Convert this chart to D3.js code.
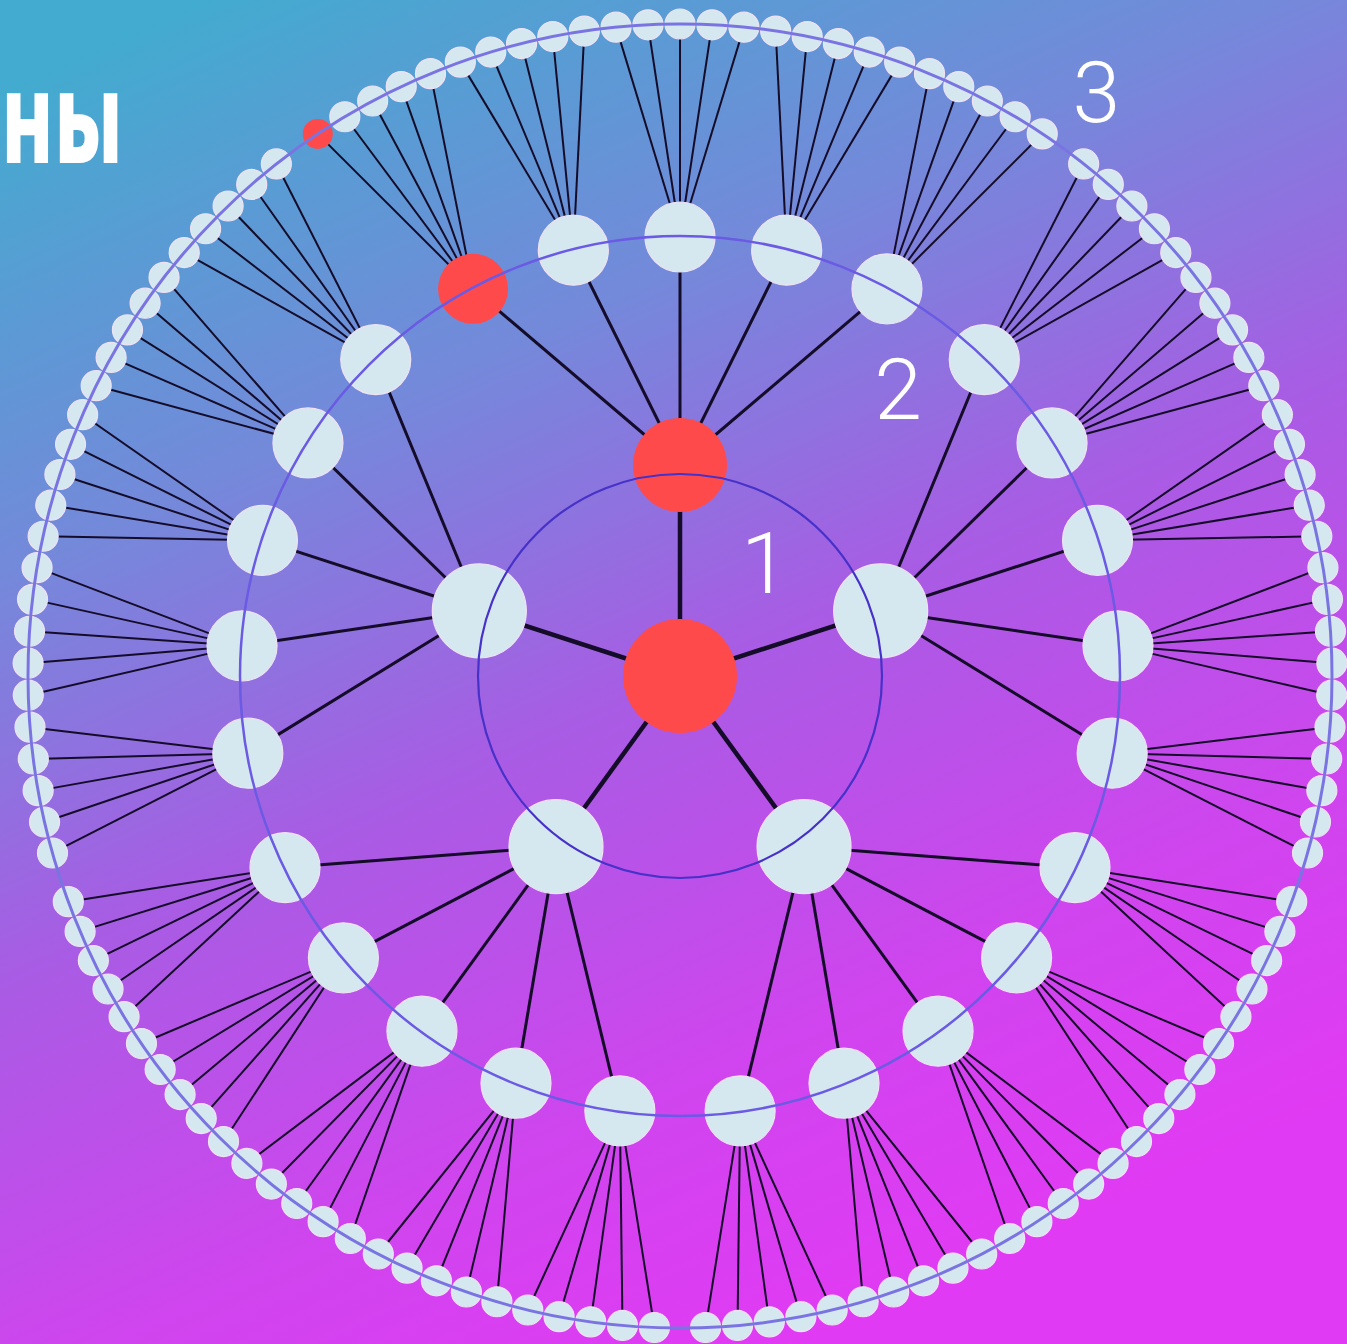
<!DOCTYPE html>
<html lang="ru">
<head>
    <meta charset="UTF-8">
    <title>Уровни связей</title>
    <script src="https://d3js.org/d3.v7.min.js"></script>
    <style>
        html, body { margin: 0; padding: 0; overflow: hidden; }
        svg { display: block; }
        .title { font-family: "Noto Sans", sans-serif; font-weight: 800; fill: #fff; }
        .ring-label { font-family: Roboto, "Open Sans", sans-serif; font-weight: 300; fill: #fff; }
    </style>
</head>
<body>
<div id="chart"></div>
<script>
    // --- data ---
    const level1Count = 5;                       // branches from the centre
    const level2PerBranch = [5, 5, 5, 5, 5];     // second-level nodes per branch
    const leavesPerNode = [                      // third-level nodes per second-level node
        5, 5, 5, 5, 5,
        5, 5, 5, 5, 5,
        5, 5, 5, 5, 5,
        5, 5, 5, 5, 5,
        5, 5, 5, 5, 5
    ];
    const highlightPath = [0, 0, 0];             // child index taken at each level (red chain)
    const ringLabels = ["1", "2", "3"];
    const titleFragment = "ны";

    // --- layout ---
    const width = 1347, height = 1344;
    const cx = 680, cy = 676;
    const radius = d3.scaleLinear().domain([0, 1, 2, 3]).range([0, 211, 439, 652]);
    const nodeSize = d3.scaleOrdinal().domain([0, 1, 2, 3]).range([57, 47, 35, 15]);
    const edgeWidth = d3.scaleOrdinal().domain([1, 2, 3]).range([4.5, 3, 2]);
    const ringRadius = [202, 440, 652];
    const ringStyle = [
        { stroke: "#4631c9", width: 2.2 },
        { stroke: "#6a5ae4", width: 2.5 },
        { stroke: "#7a74e2", width: 3 }
    ];
    const labelRadius = [141, 360, 717];
    const labelAngle = [37, 37.3, 35.5];

    // build the tree from the counts
    let leafCursor = 0;
    const treeData = {
        name: "root",
        children: d3.range(level1Count).map(i => ({
            name: "b" + i,
            children: d3.range(level2PerBranch[i]).map(j => {
                const n = leavesPerNode[leafCursor++];
                return { name: "b" + i + "-" + j, children: d3.range(n).map(k => ({ name: "l" + k })) };
            })
        }))
    };

    const root = d3.hierarchy(treeData);
    d3.cluster()
        .size([2 * Math.PI, 1])
        .separation((a, b) => (a.parent.parent === b.parent.parent ? 1 : 1.6))(root);

    // mark the red chain
    root.hot = true;
    let cur = root;
    highlightPath.forEach(idx => { cur = cur.children[idx]; cur.hot = true; });

    const rotate = -Math.PI / level1Count;
    const pos = d => {
        const p = d3.pointRadial(d.x + rotate, radius(d.depth));
        return [cx + p[0], cy + p[1]];
    };

    const svg = d3.select("#chart").append("svg")
        .attr("width", width)
        .attr("height", height);

    const grad = svg.append("defs").append("linearGradient")
        .attr("id", "bg")
        .attr("x1", "0.15").attr("y1", "0")
        .attr("x2", "0.6").attr("y2", "1");
    [
        [0, "#43abcf"],
        [0.3, "#7489da"],
        [0.55, "#a85ce4"],
        [0.8, "#cf45ee"],
        [1, "#e13af4"]
    ].forEach(s => grad.append("stop").attr("offset", s[0]).attr("stop-color", s[1]));

    svg.append("rect")
        .attr("width", width)
        .attr("height", height)
        .attr("fill", "url(#bg)");

    svg.append("text")
        .attr("class", "title")
        .attr("x", 1)
        .attr("y", 163)
        .attr("font-size", 127)
        .attr("textLength", 122)
        .attr("lengthAdjust", "spacingAndGlyphs")
        .text(titleFragment);

    // edges
    svg.append("g")
        .selectAll("line")
        .data(root.links())
        .join("line")
        .attr("x1", d => pos(d.source)[0])
        .attr("y1", d => pos(d.source)[1])
        .attr("x2", d => pos(d.target)[0])
        .attr("y2", d => pos(d.target)[1])
        .attr("stroke", "#140c28")
        .attr("stroke-width", d => edgeWidth(d.target.depth));

    // nodes
    svg.append("g")
        .selectAll("circle")
        .data(root.descendants())
        .join("circle")
        .attr("cx", d => pos(d)[0])
        .attr("cy", d => pos(d)[1])
        .attr("r", d => nodeSize(d.depth))
        .attr("fill", d => (d.hot ? "#ff4a4b" : "#d6e8ef"))
        .attr("stroke", d => (d.hot ? "none" : "#efe2f5"))
        .attr("stroke-width", 1.2);

    // rings on top of the nodes
    svg.append("g")
        .selectAll("circle")
        .data(ringRadius)
        .join("circle")
        .attr("cx", cx)
        .attr("cy", cy)
        .attr("r", d => d)
        .attr("fill", "none")
        .attr("stroke", (d, i) => ringStyle[i].stroke)
        .attr("stroke-width", (d, i) => ringStyle[i].width);

    const labelPos = i => d3.pointRadial(labelAngle[i] * Math.PI / 180, labelRadius[i]);
    svg.append("g")
        .selectAll("text")
        .data(ringLabels)
        .join("text")
        .attr("class", "ring-label")
        .attr("x", (d, i) => cx + labelPos(i)[0])
        .attr("y", (d, i) => cy + labelPos(i)[1])
        .attr("font-size", 86)
        .attr("text-anchor", "middle")
        .attr("dominant-baseline", "central")
        .text(d => d);
</script>
</body>
</html>
